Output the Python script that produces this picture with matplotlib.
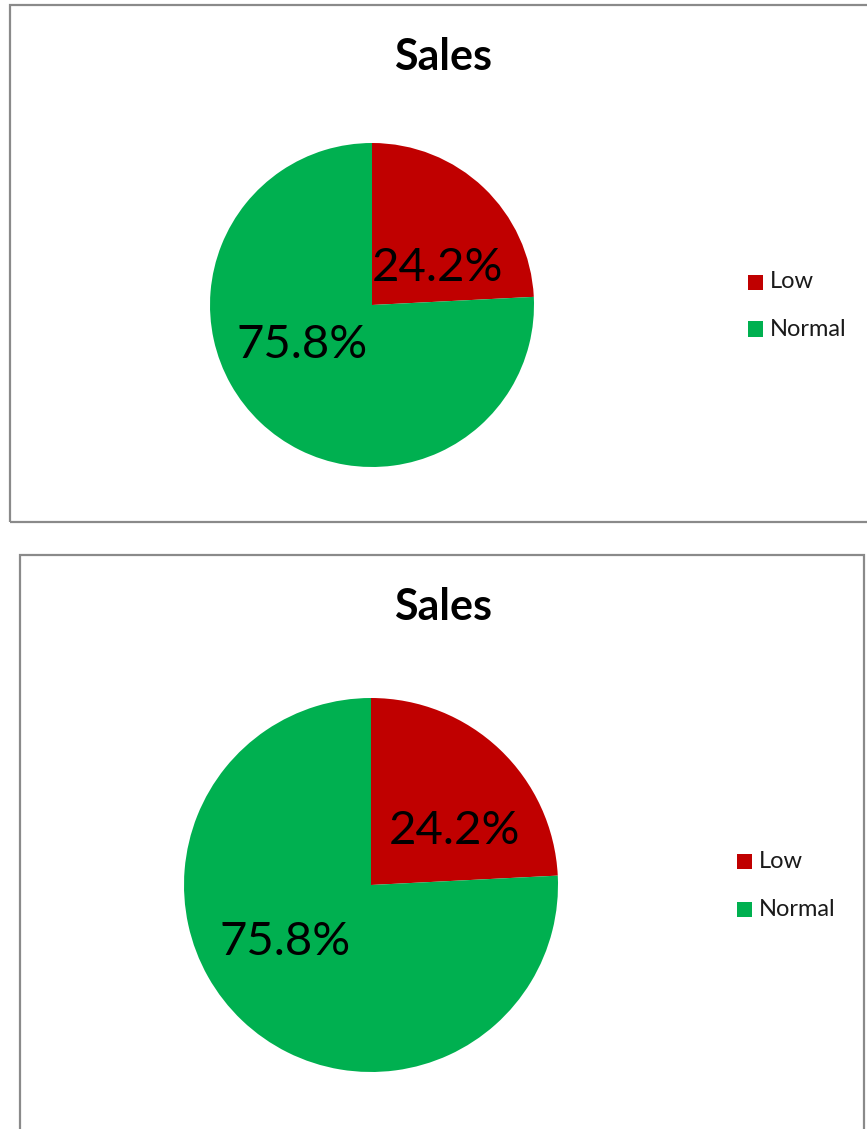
import matplotlib
matplotlib.use("Agg")
import matplotlib.pyplot as plt
from matplotlib.patches import Rectangle

categories = ["Low", "Normal"]
values = [24.2, 75.8]
colors = ["#C00000", "#00B050"]
title = "Sales"

W, H = 867, 1129
plt.rcParams['font.family'] = ['Lato', 'DejaVu Sans']
fig = plt.figure(figsize=(W / 100, H / 100), dpi=100)


def fx(x):
    return x / W


def fy(y):
    return 1 - y / H


# panel borders (pixel geometry)
panels = [
    dict(x0=10, y0=5, x1=880, y1=522),
    dict(x0=20, y0=555, x1=864, y1=1140),
]
for p in panels:
    fig.patches.append(Rectangle((fx(p["x0"]), fy(p["y1"])), fx(p["x1"] - p["x0"]),
                                 (p["y1"] - p["y0"]) / H, transform=fig.transFigure,
                                 fill=False, edgecolor="#8a8a8a", linewidth=1.6))

layouts = [
    dict(cx=372, cy=305, r=162, title_y=57, label_pos=[(0.407, 0.228), (-0.432, -0.247)],
         leg_x=746, leg_y=[282, 329]),
    dict(cx=371, cy=885, r=187, title_y=607, label_pos=[(0.449, 0.289), (-0.46, -0.305)],
         leg_x=735, leg_y=[861, 909]),
]

for L in layouts:
    cx, cy, r = L["cx"], L["cy"], L["r"]
    ax = fig.add_axes([fx(cx - r), fy(cy + r), 2 * r / W, 2 * r / H])
    wedges, _ = ax.pie(values, colors=colors, startangle=90, counterclock=False,
                       radius=1, wedgeprops=dict(linewidth=0))
    ax.set_xlim(-1, 1)
    ax.set_ylim(-1, 1)
    ax.set_aspect('equal')
    ax.axis('off')
    for v, (lx, ly) in zip(values, L["label_pos"]):
        ax.text(lx, ly, f"{v:.1f}%", ha='center', va='center', fontsize=34, color='black')
    fig.text(fx(443), fy(L["title_y"]), title, ha='center', va='center',
             fontsize=31, fontweight='bold', color='black')
    for cat, col, ly in zip(categories, colors, L["leg_y"]):
        fig.patches.append(Rectangle((fx(L["leg_x"] + 2), fy(ly + 7.5)), 15 / W, 15 / H,
                                     transform=fig.transFigure, facecolor=col, edgecolor='none'))
        fig.text(fx(L["leg_x"] + 24), fy(ly), cat, ha='left', va='center',
                 fontsize=17, color='#1a1a1a')

fig.savefig("out.png", dpi=100, facecolor='white')
